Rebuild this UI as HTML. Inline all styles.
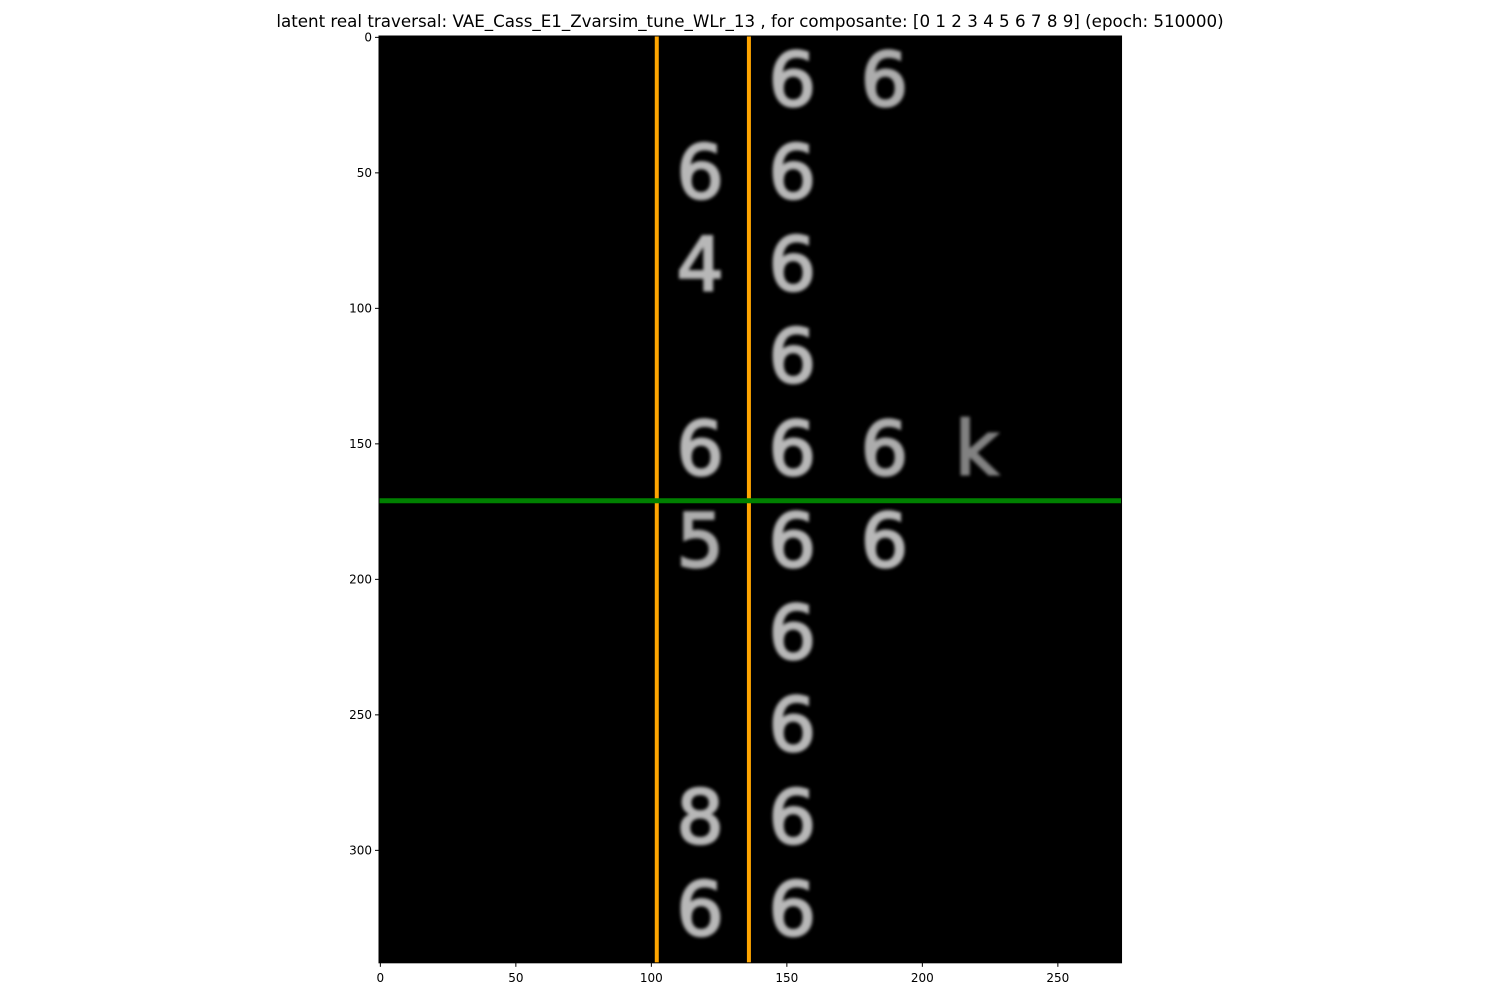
<!DOCTYPE html>
<html><head><meta charset="utf-8"><style>
body{margin:0;background:#fff;width:1500px;height:1000px;overflow:hidden;font-family:"DejaVu Sans",sans-serif}
</style></head><body>
<svg id="chart" width="1500" height="1000" xmlns="http://www.w3.org/2000/svg" font-family="DejaVu Sans, sans-serif">
<defs><filter id="blur" x="-30%" y="-30%" width="160%" height="160%"><feGaussianBlur stdDeviation="1.6"/></filter></defs>
<text x="750" y="27" text-anchor="middle" font-size="16.7">latent real traversal: VAE_Cass_E1_Zvarsim_tune_WLr_13 , for composante: [0 1 2 3 4 5 6 7 8 9] (epoch: 510000)</text>
<g id="plot"></g>
</svg>
<script>
const xTicks=[0,50,100,150,200,250];
const yTicks=[0,50,100,150,200,250,300];
const digitRows=[0,0,1,1,2,2,3,4,4,4,4,5,5,5,6,7,8,8,9,9];
const digitCols=[4,5,3,4,3,4,4,3,4,5,6,3,4,5,4,4,3,4,3,4];
const digitGlyphs=["6","6","6","6","4","6","6","6","6","6","k","5","6","6","6","6","8","6","6","6"];
const digitOpacity=[0.85,0.8,0.85,0.85,0.85,0.85,0.85,0.85,0.85,0.8,0.6,0.8,0.85,0.85,0.85,0.85,0.85,0.85,0.85,0.85];
const vLines=[102,136];
const hLines=[171];
const imgW=274, imgH=342, tile=34;
const L=379,T=36,S=2.71;
const X=u=>L+(u+0.5)*S, Y=u=>T+(u+0.5)*S;
const NS="http://www.w3.org/2000/svg";
const g=document.getElementById('plot');
function mk(t,a){const e=document.createElementNS(NS,t);for(const k in a)e.setAttribute(k,a[k]);g.appendChild(e);return e;}
let bg=mk('rect',{x:L,y:T,width:imgW*S,height:imgH*S,fill:'#000'});


digitGlyphs.forEach((d,i)=>{
  const cx=X(digitCols[i]*tile+16), cy=Y(digitRows[i]*tile+16);
  const t=mk('text',{x:cx,y:cy+25,'text-anchor':'middle','font-size':74,fill:'#d8d8d8',stroke:'#d8d8d8','stroke-width':2.5,opacity:digitOpacity[i],filter:'url(#blur)'});
  t.textContent=d;
  
  
});
vLines.forEach(v=>{const l=mk('line',{x1:X(v),x2:X(v),y1:T,y2:T+imgH*S,stroke:'#ffa500','stroke-width':4});

});
hLines.forEach(v=>{const l=mk('line',{x1:L,x2:L+imgW*S,y1:Y(v),y2:Y(v),stroke:'#008000','stroke-width':5});

});
let fr=mk('rect',{x:L,y:T,width:imgW*S,height:imgH*S,fill:'none',stroke:'#000','stroke-width':1});


xTicks.forEach(v=>{const x=X(v);mk('line',{x1:x,x2:x,y1:T+imgH*S,y2:T+imgH*S+4,stroke:'#000'});
const t=mk('text',{x:x,y:T+imgH*S+19,'text-anchor':'middle','font-size':12});t.textContent=v;

});
yTicks.forEach(v=>{const y=Y(v);mk('line',{x1:L-4,x2:L,y1:y,y2:y,stroke:'#000'});
const t=mk('text',{x:L-7,y:y+4,'text-anchor':'end','font-size':12});t.textContent=v;

});
</script>
</body></html>
